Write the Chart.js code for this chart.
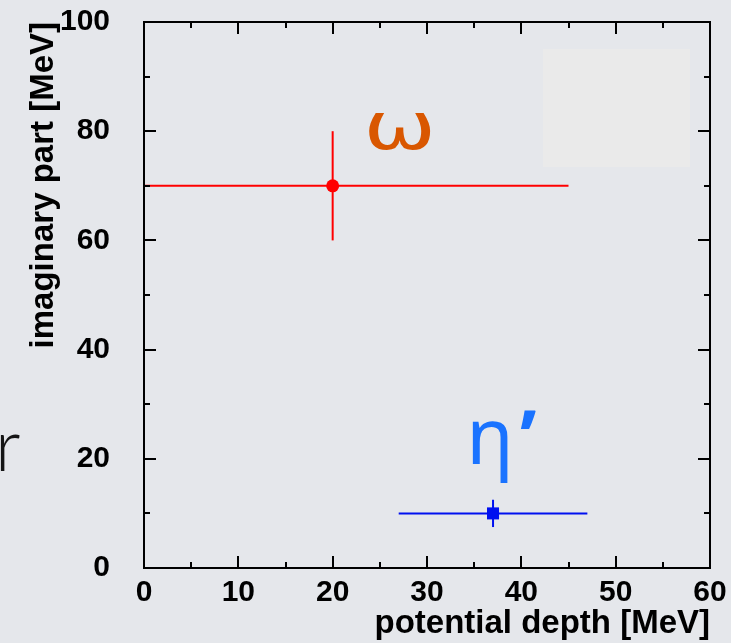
<!DOCTYPE html>
<html>
<head>
<meta charset="utf-8">
<script src="https://cdn.jsdelivr.net/npm/chart.js@4/dist/chart.umd.min.js"></script>
<style>
  html, body { margin: 0; padding: 0; background: #e5e7eb; overflow: hidden; }
  #wrap { position: relative; width: 731px; height: 643px; }
  #c { position: absolute; left: 0; top: 0; }
  #frag { position: absolute; left: -5px; top: 407px; font: 300 72px Lato, "Open Sans", sans-serif; color: #151515; line-height: 1; }
</style>
</head>
<body>
<div id="wrap">
  <canvas id="c" width="731" height="643"></canvas>
  <div id="frag">r</div>
</div>
<script>
// Mesons and their in-medium optical potential: real depth vs imaginary part
const particles       = ['ω', 'η’'];
const depth           = [20, 37];     // MeV
const depthErrLow     = [20, 10];
const depthErrHigh    = [25, 10];
const imagPart        = [70, 10];     // MeV
const imagErr         = [10, 2.5];
const xTickValues     = [0, 10, 20, 30, 40, 50, 60];
const yTickValues     = [0, 20, 40, 60, 80, 100];

const markerColors = ['#ff0000', '#0010f0'];
const labelColors  = ['#d95700', '#1a73ff'];
const markerStyles = ['circle', 'rect'];
const markerRadius = [6.5, 8.5];

const FONT = '"Liberation Sans", Arial, Helvetica, sans-serif';

// error bars as two-point line segments
const datasets = [];
particles.forEach((p, i) => {
  datasets.push({
    label: p + ' depth range',
    data: [{ x: depth[i] - depthErrLow[i], y: imagPart[i] }, { x: depth[i] + depthErrHigh[i], y: imagPart[i] }],
    showLine: true, borderColor: markerColors[i], borderWidth: 2, pointRadius: 0
  });
  datasets.push({
    label: p + ' width range',
    data: [{ x: depth[i], y: imagPart[i] - imagErr[i] }, { x: depth[i], y: imagPart[i] + imagErr[i] }],
    showLine: true, borderColor: markerColors[i], borderWidth: 2, pointRadius: 0
  });
});
particles.forEach((p, i) => {
  datasets.push({
    label: p,
    data: [{ x: depth[i], y: imagPart[i] }],
    pointStyle: markerStyles[i], pointRadius: markerRadius[i],
    backgroundColor: markerColors[i], borderColor: markerColors[i], borderWidth: 0
  });
});

// frame, inward ticks, blank key box and particle names
const framePlugin = {
  id: 'frame',
  beforeDatasetsDraw(chart) {
    const { ctx, chartArea: a } = chart;
    ctx.save();
    ctx.fillStyle = '#eaeaea';
    ctx.fillRect(a.right - 167, a.top + 27, 147, 118);
    ctx.restore();
  },
  afterDatasetsDraw(chart) {
    const { ctx, chartArea: a, scales } = chart;
    ctx.save();
    ctx.strokeStyle = '#000';
    ctx.lineWidth = 2;
    ctx.strokeRect(a.left, a.top, a.right - a.left, a.bottom - a.top);

    const MAJ = 12, MIN = 6;
    const tickSet = (vals) => {
      const out = [];
      vals.forEach((v, k) => {
        out.push([v, MAJ]);
        if (k < vals.length - 1) out.push([(v + vals[k + 1]) / 2, MIN]);
      });
      return out;
    };
    ctx.beginPath();
    tickSet(xTickValues).forEach(([v, len]) => {
      const px = Math.round(scales.x.getPixelForValue(v));
      ctx.moveTo(px, a.bottom); ctx.lineTo(px, a.bottom - len);
      ctx.moveTo(px, a.top); ctx.lineTo(px, a.top + len);
    });
    tickSet(yTickValues).forEach(([v, len]) => {
      const py = Math.round(scales.y.getPixelForValue(v));
      ctx.moveTo(a.left, py); ctx.lineTo(a.left + len, py);
      ctx.moveTo(a.right, py); ctx.lineTo(a.right - len, py);
    });
    ctx.stroke();

    // particle names beside their points
    ctx.textBaseline = 'alphabetic';
    const pxOf = i => scales.x.getPixelForValue(depth[i]);
    const pyOf = i => scales.y.getPixelForValue(imagPart[i]);

    ctx.save();
    ctx.fillStyle = labelColors[0];
    ctx.font = '76px "DejaVu Sans", sans-serif';
    ctx.textAlign = 'center';
    ctx.translate(pxOf(0) + 67, pyOf(0) - 37);
    ctx.scale(1.14, 0.86);
    ctx.fillText('ω', 0, 0);
    ctx.restore();

    ctx.fillStyle = labelColors[1];
    ctx.textAlign = 'center';
    ctx.font = '78px "Noto Sans", "DejaVu Sans", sans-serif';
    ctx.fillText('η', pxOf(1) - 3, pyOf(1) - 49);
    ctx.textAlign = 'left';
    ctx.font = 'bold 76px "Noto Sans", "DejaVu Sans", sans-serif';
    ctx.fillText('’', pxOf(1) + 27, pyOf(1) - 49);
    ctx.restore();
  }
};

const tickFont = { family: FONT, size: 30, weight: 'bold' };
const titleFont = { family: FONT, size: 33, weight: 'bold', lineHeight: 1 };

new Chart(document.getElementById('c'), {
  type: 'scatter',
  data: { datasets },
  options: {
    responsive: false,
    animation: false,
    layout: { padding: { top: 22, right: 21, left: 0, bottom: 3 } },
    plugins: { legend: { display: false }, tooltip: { enabled: false } },
    scales: {
      x: {
        type: 'linear', min: 0, max: 60,
        afterBuildTicks: s => { s.ticks = xTickValues.map(v => ({ value: v })); },
        afterFit: s => { s.height = 72; },
        grid: { display: false, drawTicks: true, tickLength: 7 },
        border: { display: false },
        ticks: { padding: 0, font: tickFont, color: '#000', maxRotation: 0, autoSkip: false },
        title: { display: true, text: 'potential depth [MeV]', align: 'end', color: '#000', font: titleFont, padding: { top: 0, bottom: 0 } }
      },
      y: {
        type: 'linear', min: 0, max: 100,
        afterBuildTicks: s => { s.ticks = yTickValues.map(v => ({ value: v })); },
        afterFit: s => { s.width = 144; },
        grid: { display: false, drawTicks: true, tickLength: 34 },
        border: { display: false },
        ticks: { padding: 0, font: tickFont, color: '#000', autoSkip: false },
        title: { display: true, text: 'imaginary part [MeV]', align: 'end', color: '#000', font: titleFont, padding: { top: 27, bottom: 0 } }
      }
    }
  },
  plugins: [framePlugin]
});
</script>
</body>
</html>
